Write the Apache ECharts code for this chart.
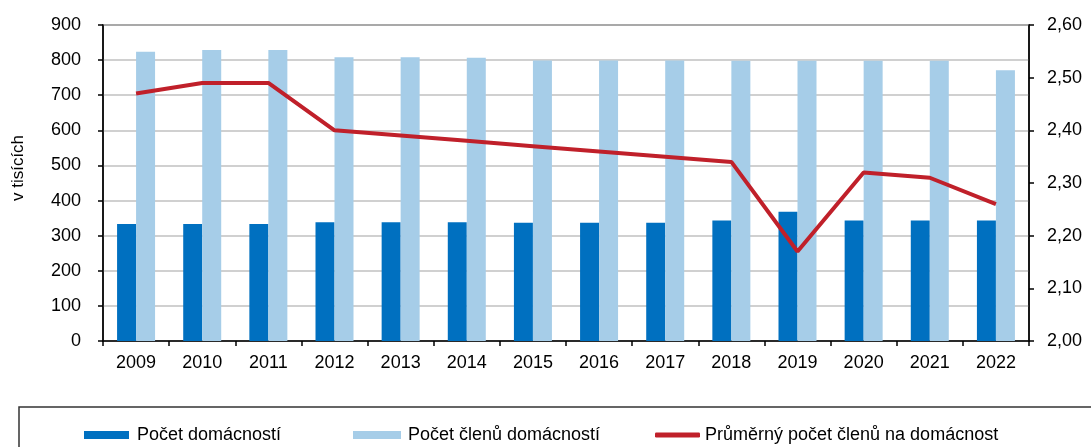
<!DOCTYPE html>
<html>
<head>
<meta charset="utf-8">
<script src="https://cdn.jsdelivr.net/npm/echarts@6/dist/echarts.min.js"></script>
<style>
  html, body { margin: 0; padding: 0; background: #fff; }
  #main { width: 1091px; height: 447px; }
</style>
</head>
<body>
<div id="main"></div>
<script>
// data
var years = ['2009', '2010', '2011', '2012', '2013', '2014', '2015', '2016', '2017', '2018', '2019', '2020', '2021', '2022'];
var domacnosti = [333, 333, 333, 338, 338, 338, 337, 337, 337, 343, 368, 343, 343, 343];
var clenove = [824, 829, 829, 808, 808, 807, 799, 799, 799, 798, 798, 798, 798, 771];
var prumer = [2.47, 2.49, 2.49, 2.40, 2.39, 2.38, 2.37, 2.36, 2.35, 2.34, 2.17, 2.32, 2.31, 2.26];

var names = ['Počet domácností', 'Počet členů domácností', 'Průměrný počet členů na domácnost'];
var font = 'Liberation Sans, Arial, sans-serif';

var myChart = echarts.init(document.getElementById('main'));

var option = {
  animation: false,
  textStyle: { fontFamily: font },
  grid: {
    left: 103, right: 62, top: 25, bottom: 106,
    show: true, borderColor: '#333', borderWidth: 1.5, backgroundColor: 'transparent'
  },
  legend: [
    { data: [names[0]], left: 79, top: 421, itemWidth: 45, itemHeight: 8, icon: 'rect',
      textStyle: { fontFamily: font, fontSize: 18, color: '#000', padding: [0, 0, 0, 3] } },
    { data: [names[1]], left: 348, top: 421, itemWidth: 48, itemHeight: 8, icon: 'rect',
      textStyle: { fontFamily: font, fontSize: 18, color: '#000', padding: [0, 0, 0, 2] } },
    { data: [names[2]], left: 650, top: 421, itemWidth: 45, itemHeight: 5, icon: 'roundRect',
      textStyle: { fontFamily: font, fontSize: 18, color: '#000', padding: [0, 0, 0, 0] } }
  ],
  graphic: [{
    type: 'rect',
    shape: { x: 19, y: 407, width: 1100, height: 60 },
    style: { fill: 'none', stroke: '#333', lineWidth: 1.5 },
    silent: true
  }, {
    type: 'text',
    x: 18, y: 168,
    rotation: Math.PI / 2,
    style: {
      text: 'v tisících', font: '17px ' + font, fill: '#000',
      align: 'center', verticalAlign: 'middle'
    },
    silent: true
  }],
  xAxis: {
    type: 'category',
    data: years,
    axisLine: { lineStyle: { color: '#000', width: 1.5 } },
    axisTick: { show: true, length: 5, lineStyle: { color: '#000', width: 1.5 } },
    axisLabel: { fontSize: 18, color: '#000', margin: 13, fontFamily: font }
  },
  yAxis: [{
    type: 'value',
    min: 0, max: 900, interval: 100,
    axisLine: { show: true, lineStyle: { color: '#000', width: 1.5 } },
    axisTick: { show: true, length: 5, lineStyle: { color: '#000', width: 1.5 } },
    axisLabel: { fontSize: 18, color: '#000', margin: 22, fontFamily: font },
    splitLine: { lineStyle: { color: '#c0c0c0', width: 1.5 } }
  }, {
    type: 'value',
    min: 2, max: 2.6, interval: 0.1,
    position: 'right',
    axisLine: { show: true, lineStyle: { color: '#000', width: 1.5 } },
    axisTick: { show: true, length: 5, lineStyle: { color: '#000', width: 1.5 } },
    axisLabel: {
      fontSize: 18, color: '#000', margin: 18, fontFamily: font,
      formatter: function (v) { return v.toFixed(2).replace('.', ','); }
    },
    splitLine: { show: false }
  }],
  series: [{
    name: names[0],
    type: 'bar',
    data: domacnosti,
    barWidth: 19,
    barGap: '0%',
    itemStyle: { color: '#0070c0' }
  }, {
    name: names[1],
    type: 'bar',
    data: clenove,
    barWidth: 19,
    barGap: '0%',
    itemStyle: { color: '#a6cde8' }
  }, {
    name: names[2],
    type: 'line',
    yAxisIndex: 1,
    data: prumer,
    symbol: 'none',
    z: 5,
    lineStyle: { color: '#c0202a', width: 4 },
    itemStyle: { color: '#c0202a' }
  }]
};

myChart.setOption(option);
</script>
</body>
</html>
